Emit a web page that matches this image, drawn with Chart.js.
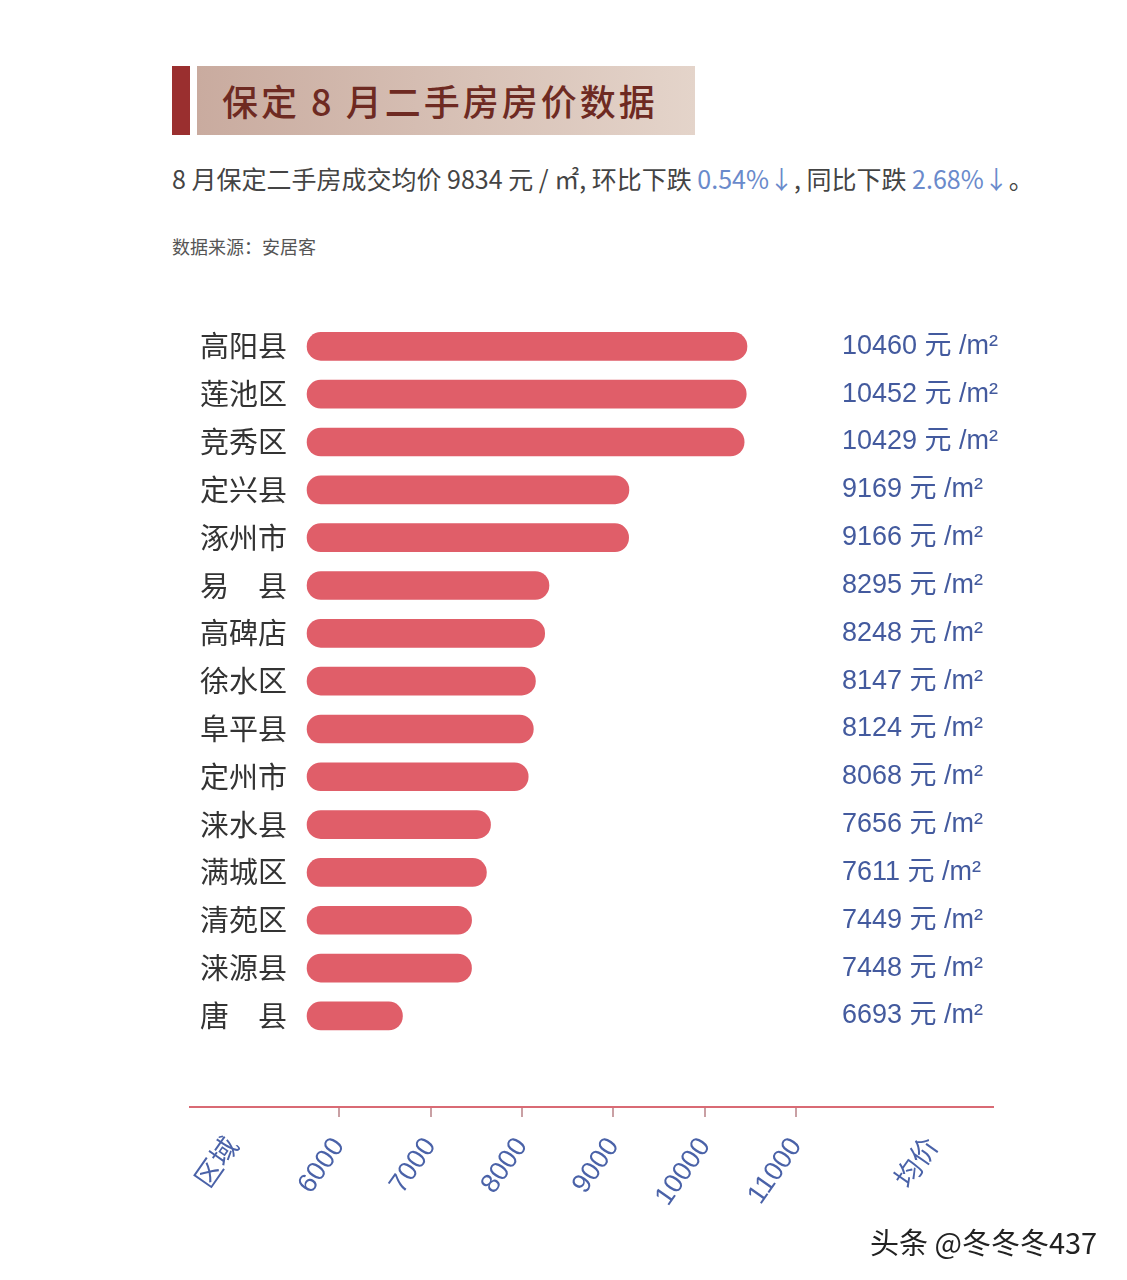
<!DOCTYPE html>
<html lang="zh">
<head>
<meta charset="UTF-8">
<title>保定 8 月二手房房价数据</title>
<script src="https://cdn.jsdelivr.net/npm/chart.js"></script>
<style>
    body { margin: 0; background: #fff; font-family: "Noto Sans CJK SC", sans-serif; }
    .page { position: relative; width: 1127px; height: 1280px; overflow: hidden; }
    .mark { position: absolute; left: 172px; top: 66px; width: 18px; height: 69px; background: #9a2f2f; }
    .title-box {
        position: absolute; left: 197px; top: 66px; width: 498px; height: 69px;
        background: linear-gradient(90deg, #c9ab9f, #e4d4ca);
    }
    .title-box span {
        position: absolute; left: 25px; top: 12px; font-size: 36px; font-weight: 500;
        color: #6e2a22; letter-spacing: 3px; line-height: 44px;
    }
    .sub { position: absolute; left: 172px; top: 160px; font-size: 25px; color: #444; white-space: nowrap; }
    .sub .down { color: #6a8acb; }
    .src { position: absolute; left: 172px; top: 233px; font-size: 18px; color: #555; }
    .chart-wrap { position: absolute; left: 0; top: 269px; width: 1127px; height: 971px; }
    .wm { position: absolute; left: 870px; top: 1220px; font-size: 29px; color: #222; }
</style>
</head>
<body>
<div class="page">
    <div class="mark"></div>
    <div class="title-box"><span>保定 8 月二手房房价数据</span></div>
    <div class="sub">8 月保定二手房成交均价 9834 元 / ㎡, 环比下跌 <span class="down">0.54%↓</span>, 同比下跌 <span class="down">2.68%↓</span>。</div>
    <div class="src">数据来源：安居客</div>
    <div class="chart-wrap"><canvas id="c"></canvas></div>
    <div class="wm">头条 @冬冬冬437</div>
</div>

<script>
// 区域 and 均价 (元/m²)
const districts = ['高阳县', '莲池区', '竞秀区', '定兴县', '涿州市', '易　县', '高碑店', '徐水区',
                   '阜平县', '定州市', '涞水县', '满城区', '清苑区', '涞源县', '唐　县'];
const prices = [10460, 10452, 10429, 9169, 9166, 8295, 8248, 8147, 8124, 8068, 7656, 7611, 7449, 7448, 6693];
const xTicks = [6000, 7000, 8000, 9000, 10000, 11000];
const axisNames = { 4850: '区域', 12500: '均价' };

const blue = '#4a62a8';

const valueLabels = {
    id: 'valueLabels',
    afterDatasetsDraw(chart) {
        const ctx = chart.ctx;
        const meta = chart.getDatasetMeta(0);
        ctx.save();
        ctx.fillStyle = '#435a9e';
        ctx.font = '27px "Liberation Sans", "Noto Sans CJK SC"';
        ctx.textBaseline = 'middle';
        meta.data.forEach((bar, i) => {
            ctx.fillText(prices[i] + ' 元 /m²', chart.chartArea.right - 151, bar.y);
        });
        ctx.restore();
    }
};

new Chart(document.getElementById('c'), {
    type: 'bar',
    data: {
        datasets: [{
            data: prices.map((v, i) => ({ x: v, y: i })),
            base: 5650,
            backgroundColor: '#e05e69',
            barThickness: 28,
            borderRadius: 14,
            borderSkipped: false
        }]
    },
    options: {
        indexAxis: 'y',
        responsive: true,
        maintainAspectRatio: false,
        animation: false,
        layout: { padding: { left: 190, right: 134, top: 0, bottom: 0 } },
        plugins: { legend: { display: false }, tooltip: { enabled: false } },
        scales: {
            y: {
                type: 'linear',
                reverse: true,
                min: -0.48,
                max: 15.34,
                afterBuildTicks: s => { s.ticks = districts.map((_, i) => ({ value: i })); },
                afterFit: s => { s.width = 0; },
                grid: { display: false, drawTicks: false },
                border: { display: false },
                ticks: {
                    mirror: true,
                    padding: 10,
                    color: '#333',
                    font: { size: 29, family: '"Noto Sans CJK SC"' },
                    callback: v => districts[v]
                }
            },
            x: {
                type: 'linear',
                min: 4370,
                max: 13150,
                afterBuildTicks: s => {
                    s.ticks = [4850, ...xTicks, 12500].map(v => ({ value: v }));
                },
                afterFit: s => { s.height = 133; },
                border: { display: true, color: '#d96a74', width: 2 },
                grid: {
                    drawOnChartArea: false,
                    tickLength: 10,
                    tickColor: c => (c.tick && axisNames[c.tick.value]) ? 'rgba(0,0,0,0)' : '#c9a0a4',
                    lineWidth: 2
                },
                ticks: {
                    autoSkip: false,
                    minRotation: 55,
                    maxRotation: 55,
                    padding: 15,
                    color: blue,
                    font: { size: 27, family: '"Liberation Sans", "Noto Sans CJK SC"' },
                    callback: v => axisNames[v] || String(v)
                }
            }
        }
    },
    plugins: [valueLabels]
});
</script>
</body>
</html>
